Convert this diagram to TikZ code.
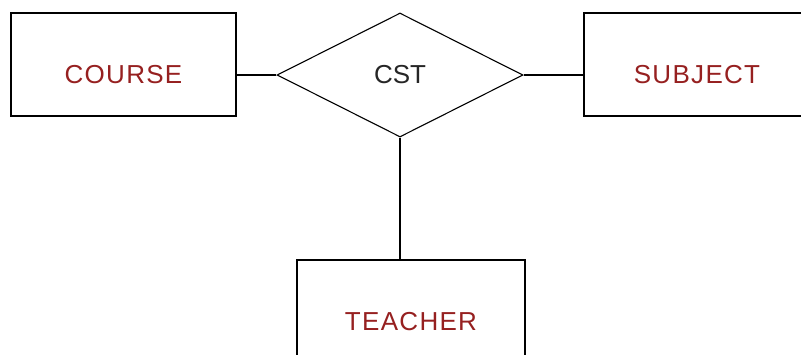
\documentclass[tikz,border=0pt]{standalone}
\usepackage{fontspec}
\setmainfont{Liberation Sans}
\usetikzlibrary{shapes.geometric}
\definecolor{entred}{RGB}{150,32,32}
\begin{document}
\begin{tikzpicture}[x=1pt,y=-1pt,line width=1.1pt,
	entity/.style={draw,rectangle,minimum width=225pt,minimum height=103pt,inner sep=0pt,
		text height=38pt,text depth=0pt,text=entred,font=\fontsize{26}{26}\selectfont\addfontfeature{LetterSpace=5}},
	relation/.style={draw,diamond,minimum width=246pt,minimum height=124pt,inner sep=0pt,
		text=black!85,font=\fontsize{26}{26}\selectfont}]
	\useasboundingbox (0,0) rectangle (801,354);
				\node[entity] (course) at (123.5,64.5) {COURSE};
				\node[entity,minimum width=226pt] (subject) at (697,64.5) {SUBJECT};
				\node[entity,minimum width=228pt] (teacher) at (411,311.5) {TEACHER};
				\node[relation] (cst) at (400,75) {CST};

	\draw (cst.west) -- (cst.west -| course.east);
	\draw (cst.east) -- (cst.east -| subject.west);
	\draw (cst.south) -- (cst.south |- teacher.north);

\end{tikzpicture}
\end{document}
